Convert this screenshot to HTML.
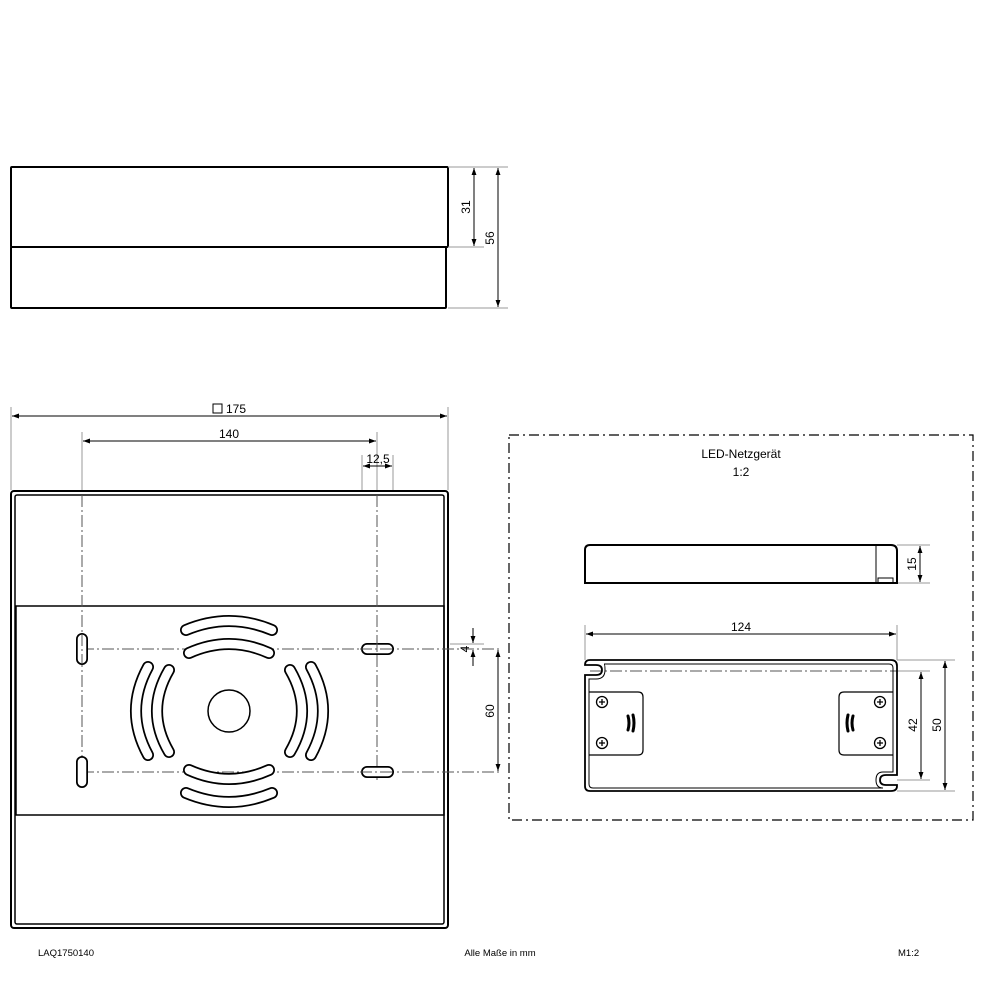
<!DOCTYPE html><html><head><style>body{margin:0;background:#fff}svg{display:block}text{font-family:"Liberation Sans",sans-serif;fill:#000}</style></head><body>
<svg width="1000" height="1000" viewBox="0 0 1000 1000" xmlns="http://www.w3.org/2000/svg">
<defs><marker id="a" viewBox="0 0 10 10" refX="10" refY="5" markerWidth="7" markerHeight="7" orient="auto-start-reverse"><path d="M0,1.5L10,5L0,8.5z" fill="#000"/></marker></defs>
<g fill="none" stroke="#000" stroke-width="2">
<rect x="11" y="167" width="437" height="80" rx="1"/>
<rect x="11" y="247" width="435" height="61" rx="1"/>
<rect x="11" y="491" width="437" height="437" rx="3"/>
<rect x="15" y="495" width="429" height="429" rx="2" stroke-width="1.5"/>
<rect x="16" y="606" width="428" height="209" stroke-width="1.5"/>
<circle cx="229" cy="711" r="21" stroke-width="1.5"/>
</g>
<g stroke="#999" stroke-width="1" fill="none">
<line x1="448" y1="167" x2="508" y2="167"/><line x1="448" y1="247" x2="484" y2="247"/><line x1="448" y1="308" x2="508" y2="308"/>
<line x1="11" y1="407" x2="11" y2="490"/><line x1="448" y1="407" x2="448" y2="490"/>
<line x1="82" y1="432" x2="82" y2="490"/><line x1="377" y1="432" x2="377" y2="490"/>
<line x1="362" y1="455" x2="362" y2="490"/><line x1="393" y1="455" x2="393" y2="490"/>
<line x1="450" y1="644" x2="484" y2="644"/>
<line x1="585" y1="625" x2="585" y2="660"/><line x1="897" y1="625" x2="897" y2="660"/>
<line x1="897" y1="545" x2="930" y2="545"/><line x1="897" y1="583" x2="930" y2="583"/>
<line x1="897" y1="660" x2="955" y2="660"/><line x1="897" y1="791" x2="955" y2="791"/><line x1="897" y1="780" x2="930" y2="780"/><line x1="897" y1="671" x2="930" y2="671"/>
</g>
<g stroke="#000" stroke-width="1" marker-start="url(#a)" marker-end="url(#a)">
<line x1="474" y1="168" x2="474" y2="246"/><line x1="498" y1="168" x2="498" y2="307"/>
<line x1="12" y1="416" x2="447" y2="416"/><line x1="83" y1="441" x2="376" y2="441"/>
<line x1="363" y1="466" x2="392" y2="466"/>
<line x1="498" y1="650" x2="498" y2="771"/>
<line x1="920" y1="546" x2="920" y2="582"/>
<line x1="586" y1="634" x2="896" y2="634"/>
<line x1="945" y1="661" x2="945" y2="790"/><line x1="921" y1="672" x2="921" y2="779"/>
</g>
<g stroke="#000" stroke-width="1"><line x1="473" y1="628" x2="473" y2="643" marker-end="url(#a)"/><line x1="473" y1="666" x2="473" y2="650" marker-end="url(#a)"/></g>
<g stroke="#555" stroke-width="1" stroke-dasharray="12,3,2,3" fill="none">
<line x1="82" y1="495" x2="82" y2="785"/><line x1="377" y1="495" x2="377" y2="780"/>
<line x1="82" y1="649" x2="500" y2="649"/><line x1="82" y1="772" x2="500" y2="772"/>
<line x1="590" y1="671" x2="897" y2="671"/>
</g>
<rect x="509" y="435" width="464" height="385" fill="none" stroke="#000" stroke-width="1.2" stroke-dasharray="10,4,2,4"/>
<g fill="none" stroke-linecap="round">
<g stroke="#000" stroke-width="12">
<path d="M186,630Q229,612 272,630"/><path d="M189,653Q229,635 269,653"/>
<path d="M189,770Q229,788 269,770"/><path d="M186,793Q229,811 272,793"/>
<path d="M148,667Q124,711 148,755"/><path d="M169,670Q145,711 169,752"/>
<path d="M290,670Q314,711 290,752"/><path d="M311,667Q335,711 311,755"/>
<line x1="82" y1="639" x2="82" y2="659"/><line x1="82" y1="762" x2="82" y2="782"/>
<line x1="367" y1="649" x2="388" y2="649"/><line x1="367" y1="772" x2="388" y2="772"/>
</g>
<g stroke="#fff" stroke-width="8.5">
<path d="M186,630Q229,612 272,630"/><path d="M189,653Q229,635 269,653"/>
<path d="M189,770Q229,788 269,770"/><path d="M186,793Q229,811 272,793"/>
<path d="M148,667Q124,711 148,755"/><path d="M169,670Q145,711 169,752"/>
<path d="M290,670Q314,711 290,752"/><path d="M311,667Q335,711 311,755"/>
<line x1="82" y1="639" x2="82" y2="659"/><line x1="82" y1="762" x2="82" y2="782"/>
<line x1="367" y1="649" x2="388" y2="649"/><line x1="367" y1="772" x2="388" y2="772"/>
</g></g>
<g stroke="#555" stroke-width="1" stroke-dasharray="12,3,2,3"><line x1="82" y1="634" x2="82" y2="664"/><line x1="360" y1="649" x2="395" y2="649"/><line x1="360" y1="772" x2="395" y2="772"/><line x1="377" y1="640" x2="377" y2="660"/></g>
<g fill="none" stroke="#000" stroke-width="2">
<path d="M585,583V550Q585,545 590,545H891Q897,545 897,551V583Z"/>
<line x1="876" y1="546" x2="876" y2="583" stroke-width="1"/>
<path d="M878,583v-5h15v5" stroke-width="1"/>
<path d="M590,660H891Q897,660 897,666V775H886Q880,775 880,780Q880,785 886,785H897V786Q897,791 891,791H590Q585,791 585,786V675H596Q602,675 602,670Q602,665 596,665H585Q585,660 590,660Z" stroke-width="1.8"/>
<path d="M604,664H889Q893,664 893,668V772H883Q876,772 876,780Q876,788 883,788H593Q589,788 589,784V679H596Q605,679 605,670Q605,664 604,664" stroke-width="1"/>
<path d="M589,692H638Q643,692 643,697V750Q643,755 638,755H589" stroke-width="1.2"/>
<path d="M893,692H844Q839,692 839,697V750Q839,755 844,755H893" stroke-width="1.2"/>
</g>
<g stroke="#000" stroke-width="3" stroke-linecap="round"><path d="M628,716q2,7 0,14M633,715q2,8 0,16"/><path d="M848,715q-2,8 0,16M853,716q-2,7 0,14"/></g>
<g fill="none" stroke="#000" stroke-width="1.3">
<circle cx="602" cy="702" r="5.5"/><circle cx="602" cy="743" r="5.5"/><circle cx="880" cy="702" r="5.5"/><circle cx="880" cy="743" r="5.5"/>
<path d="M599,702h6M602,699v6M599,743h6M602,740v6M877,702h6M880,699v6M877,743h6M880,740v6"/>
</g>
<g font-size="12">
<text x="474" y="207" transform="rotate(-90 474 207)" text-anchor="middle" dy="-4">31</text>
<text x="498" y="238" transform="rotate(-90 498 238)" text-anchor="middle" dy="-4">56</text>
<text x="498" y="711" transform="rotate(-90 498 711)" text-anchor="middle" dy="-4">60</text>
<text x="473" y="649" transform="rotate(-90 473 649)" text-anchor="middle" dy="-4">4</text>
<text x="920" y="564" transform="rotate(-90 920 564)" text-anchor="middle" dy="-4">15</text>
<text x="921" y="725" transform="rotate(-90 921 725)" text-anchor="middle" dy="-4">42</text>
<text x="945" y="725" transform="rotate(-90 945 725)" text-anchor="middle" dy="-4">50</text>
<text x="236" y="413" text-anchor="middle">175</text>
<text x="229" y="438" text-anchor="middle">140</text>
<text x="378" y="463" text-anchor="middle">12,5</text>
<text x="741" y="631" text-anchor="middle">124</text>
<text x="741" y="458" text-anchor="middle">LED-Netzgerät</text>
<text x="741" y="476" text-anchor="middle">1:2</text>
</g>
<rect x="213" y="404" width="9" height="9" fill="none" stroke="#000" stroke-width="1"/>
<g font-size="9.5"><text x="38" y="956">LAQ1750140</text><text x="500" y="956" text-anchor="middle">Alle Maße in mm</text><text x="898" y="956">M1:2</text></g>
</svg></body></html>
